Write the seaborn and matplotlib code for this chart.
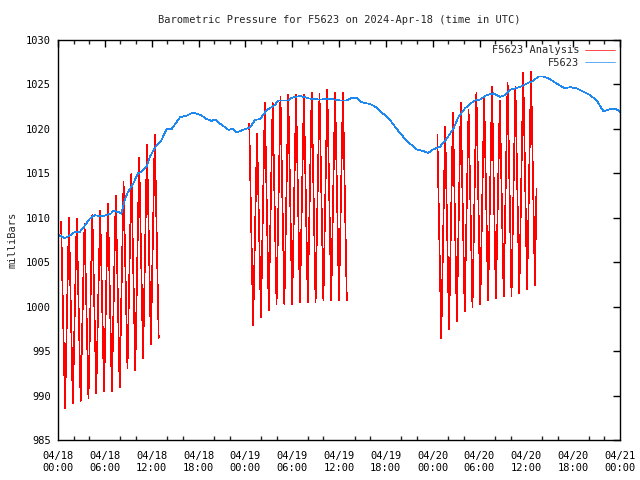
import numpy as np
import pandas as pd
import matplotlib
matplotlib.use("Agg")
import matplotlib.pyplot as plt
from matplotlib.ticker import FixedLocator, MultipleLocator
import seaborn as sns

# ---------------- data ----------------
title = "Barometric Pressure for F5623 on 2024-Apr-18 (time in UTC)"
series_names = ["F5623 Analysis", "F5623"]

# F5623 observed pressure (hours since 04/18 00:00 UTC, mb)
obs_hours = [0.0, 0.22, 0.86, 1.50, 2.14, 2.78, 3.42, 4.06, 4.70, 5.55,
             6.19, 6.83, 7.05, 7.90, 8.11, 8.54, 8.97, 9.61, 10.25, 10.67,
             11.31, 11.79, 12.64, 13.23, 13.93, 14.57, 15.63, 16.49, 17.33, 18.41,
             19.05, 19.69, 20.11, 20.75, 21.82, 22.46, 22.89, 23.74, 24.60, 25.24,
             25.88, 26.74, 27.80, 28.22, 29.50, 29.94, 31.00, 32.30, 33.60, 34.85,
             36.13, 36.99, 37.62, 38.27, 38.91, 39.97, 40.83, 41.67, 42.53, 43.39,
             44.24, 45.09, 45.95, 46.80, 47.44, 48.08, 48.94, 49.80, 50.64, 51.28,
             52.14, 52.78, 53.42, 54.06, 54.92, 55.77, 56.62, 57.26, 57.90, 59.18,
             60.04, 60.89, 61.53, 62.18, 63.03, 63.89, 64.95, 65.59, 66.45, 67.30,
             68.16, 69.01, 69.86, 70.72, 71.57, 72.0]
obs_mb = [1008.1, 1008.0, 1007.7, 1008.0, 1008.4, 1008.4, 1009.1, 1009.9, 1010.3, 1010.15,
          1010.3, 1010.5, 1010.8, 1010.6, 1010.45, 1012.0, 1012.9, 1013.8, 1015.0, 1015.15,
          1015.7, 1016.9, 1018.2, 1018.7, 1020.0, 1020.0, 1021.3, 1021.5, 1021.85, 1021.5,
          1021.1, 1020.9, 1021.05, 1020.6, 1019.9, 1020.0, 1019.6, 1019.9, 1020.15, 1021.0,
          1021.1, 1022.1, 1022.7, 1023.2, 1023.2, 1023.5, 1023.7, 1023.4, 1023.3, 1023.4,
          1023.2, 1023.2, 1023.5, 1023.5, 1023.0, 1022.8, 1022.4, 1021.7, 1021.0, 1020.0,
          1019.1, 1018.35, 1017.7, 1017.5, 1017.3, 1017.7, 1018.0, 1018.9, 1020.0, 1021.3,
          1022.3, 1022.8, 1023.2, 1023.3, 1023.8, 1024.0, 1023.6, 1023.8, 1024.4, 1024.7,
          1025.1, 1025.4, 1025.9, 1025.9, 1025.6, 1025.1, 1024.55, 1024.7, 1024.55, 1024.2,
          1023.8, 1023.2, 1022.0, 1022.2, 1022.2, 1021.9]

# F5623 Analysis: three hourly blocks, each hour a high and a low value
block_start_hours = [0.4, 24.5, 48.6]
block1_highs = [1009.5, 1010.0, 1009.9, 1009.3, 1010.3, 1010.8, 1011.6, 1012.5, 1014.0, 1015.0, 1016.8, 1018.2, 1019.3]
block1_lows = [988.6, 989.1, 989.4, 989.7, 990.3, 990.5, 990.5, 990.9, 993.1, 992.8, 994.2, 995.8, 996.5]
block2_highs = [1020.6, 1019.5, 1022.9, 1022.9, 1023.6, 1023.8, 1023.8, 1023.8, 1024.1, 1023.9, 1024.4, 1024.1, 1024.1]
block2_lows = [997.9, 998.8, 999.6, 1000.3, 1000.3, 1000.3, 1000.5, 1000.5, 1000.5, 1000.7, 1000.7, 1000.7, 1000.7]
block3_highs = [1019.3, 1020.2, 1021.8, 1022.9, 1022.1, 1024.1, 1023.6, 1024.7, 1023.2, 1025.2, 1024.7, 1026.3, 1026.4]
block3_lows = [996.4, 997.5, 998.4, 999.5, 999.9, 1000.3, 1000.7, 1000.9, 1001.2, 1001.2, 1001.5, 1002.0, 1002.4]
block3_last = 1013.3

y_ticks = [985, 990, 995, 1000, 1005, 1010, 1015, 1020, 1025, 1030]
x_tick_hours = [0, 6, 12, 18, 24, 30, 36, 42, 48, 54, 60, 66, 72]
x_tick_labels = ["04/18\n00:00", "04/18\n06:00", "04/18\n12:00", "04/18\n18:00",
                 "04/19\n00:00", "04/19\n06:00", "04/19\n12:00", "04/19\n18:00",
                 "04/20\n00:00", "04/20\n06:00", "04/20\n12:00", "04/20\n18:00",
                 "04/21\n00:00"]

# ---------------- build table ----------------
rows = []
blocks = [(block1_highs, block1_lows, None), (block2_highs, block2_lows, None),
          (block3_highs, block3_lows, block3_last)]
for b, ((highs, lows, last), t0) in enumerate(zip(blocks, block_start_hours)):
    t = t0
    for k, (hi, lo) in enumerate(zip(highs, lows)):
        rows.append((t0 + k, hi, series_names[0], b))
        rows.append((t0 + k + 0.5, lo, series_names[0], b))
        t = t0 + k + 0.5
    if last is not None:
        rows.append((t + 0.2, last, series_names[0], b))
for h, v in zip(obs_hours, obs_mb):
    rows.append((h, v, series_names[1], 10))
df = pd.DataFrame(rows, columns=["hour", "mb", "series", "block"])

# ---------------- plot ----------------
sns.set_style("white")
plt.rcParams["font.family"] = ["DejaVu Sans Mono"]
plt.rcParams["font.size"] = 7.5

fig = plt.figure(figsize=(6.4, 4.8), dpi=100)
ax = fig.add_axes([58 / 640, 1 - 440 / 480, (620 - 58) / 640, (440 - 40) / 480])

sns.lineplot(data=df, x="hour", y="mb", hue="series", units="block", estimator=None,
             sort=False, hue_order=series_names,
             palette={series_names[0]: "#ff0000", series_names[1]: "#1e88f0"},
             linewidth=0.5, antialiased=False, ax=ax)

ax.set_xlim(0, 72)
ax.set_ylim(985, 1030)
ax.xaxis.set_major_locator(FixedLocator(x_tick_hours))
ax.set_xticklabels(x_tick_labels)
ax.xaxis.set_minor_locator(MultipleLocator(2))
ax.yaxis.set_major_locator(FixedLocator(y_ticks))
ax.set_yticklabels([str(v) for v in y_ticks])
ax.tick_params(axis="both", which="major", direction="in", length=5, width=1,
               top=True, right=True, colors="black", labelsize=7.5)
ax.tick_params(axis="x", which="minor", direction="in", length=3, width=1,
               top=True, bottom=True)
ax.tick_params(axis="x", which="major", pad=8)
ax.tick_params(axis="y", which="major", pad=5)
for s in ax.spines.values():
    s.set_color("black")
    s.set_linewidth(1)

ax.set_xlabel("")
ax.set_ylabel("milliBars", fontsize=7.5, labelpad=6)
ax.set_title(title, fontsize=7.5, pad=12)

sns.move_legend(ax, "upper right", frameon=False, markerfirst=False, title=None,
                fontsize=7.5, handlelength=2.9, handletextpad=0.5,
                labelspacing=0.25, borderaxespad=0.2, borderpad=0.3)

fig.savefig("out.png", dpi=100)
